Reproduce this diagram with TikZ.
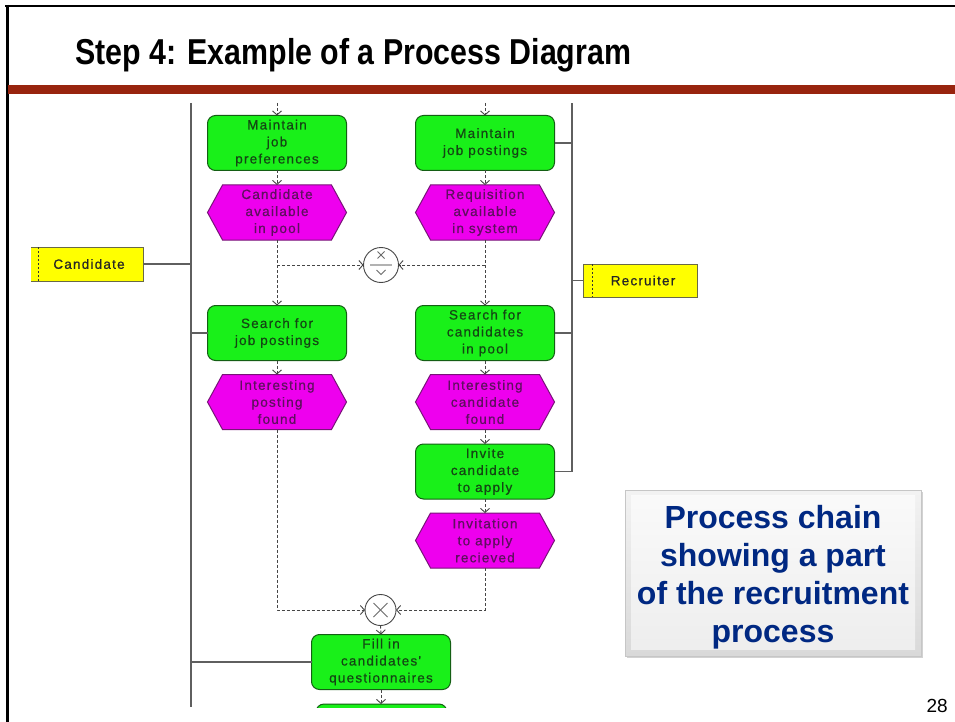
\documentclass[tikz,border=0pt]{standalone}
\usepackage{fontspec}
\setmainfont{Liberation Sans}
\newfontfamily\diafont[LetterSpace=9,FakeBold=0.6]{Liberation Sans}
\usetikzlibrary{arrows.meta,shadows,calc}
\pgfdeclarelayer{bg}
\pgfsetlayers{bg,main}

\definecolor{fngreen}{RGB}{25,240,25}
\definecolor{fnedge}{RGB}{20,95,20}
\definecolor{fntext}{RGB}{20,70,20}
\definecolor{evmag}{RGB}{238,0,238}
\definecolor{evedge}{RGB}{120,20,120}
\definecolor{evtext}{RGB}{95,15,95}
\definecolor{orgyel}{RGB}{255,255,0}
\definecolor{orgedge}{RGB}{105,105,70}
\definecolor{linegrey}{RGB}{95,95,95}
\definecolor{flowgrey}{RGB}{70,70,70}
\definecolor{titlered}{RGB}{152,36,14}
\definecolor{calloutblue}{RGB}{0,40,130}

\tikzset{
  diatext/.style={font=\diafont\fontsize{13.5}{17}\selectfont, align=center},
  fn/.style={diatext, draw=fnedge, fill=fngreen, rounded corners=8pt,
    minimum width=139pt, minimum height=55pt, inner sep=0pt, outer sep=0pt,
    text=fntext, line width=1pt},
  evt/.style={diatext, minimum width=139pt, minimum height=55pt,
    inner sep=0pt, outer sep=0pt, text=evtext},
  evtshape/.style={draw=evedge, fill=evmag, line width=1pt},
  orgbox/.style={diatext, fill=orgyel, minimum height=33pt, inner sep=0pt,
    outer sep=0pt, text=black!85},
  orgedge/.style={draw=orgedge, line width=1pt},
  orgtick/.style={draw=black!80, line width=1pt, dash pattern=on 2pt off 2pt},
  orgline/.style={draw=linegrey, line width=1.3pt},
  flow/.style={draw=flowgrey, line width=0.9pt, dash pattern=on 3pt off 2pt,
    -{Straight Barb[length=4pt,width=9pt]}},
  gate/.style={circle, draw=flowgrey, fill=white, line width=0.9pt,
    inner sep=0pt, outer sep=0pt},
  gatemark/.style={draw=flowgrey!80, line width=0.9pt},
  callout/.style={minimum width=296pt, minimum height=166pt, inner sep=0pt,
    top color=gray!10, bottom color=gray!30, draw=gray!45, line width=0.6pt,
    drop shadow={shadow xshift=2pt, shadow yshift=-2pt, opacity=0.35},
    text=calloutblue, align=center,
    font=\bfseries\fontsize{32}{38}\selectfont}
}

% event: hexagon drawn behind an invisible node of the same extent
\newcommand\eventnode[3]{%
  \node[evt] (#1) at (#2) {#3};
  \begin{pgfonlayer}{bg}
    \draw[evtshape] (#1.west) -- ([xshift=15pt]#1.north west)
      -- ([xshift=-15pt]#1.north east) -- (#1.east)
      -- ([xshift=-15pt]#1.south east) -- ([xshift=15pt]#1.south west) -- cycle;
  \end{pgfonlayer}}

\begin{document}
\begin{tikzpicture}[x=1pt,y=-1pt]
\useasboundingbox (0,0) rectangle (955,722);
\begin{pgfonlayer}{bg}
  \fill[white] (0,0) rectangle (955,722);
\end{pgfonlayer}

% slide frame and title
\draw[line width=2.5pt] (5,6) -- (955,6);
\draw[line width=2.5pt] (7.5,5) -- (7.5,722);
\fill[titlered] (7.5,85) rectangle (955,94);
\node[anchor=base west, inner sep=0pt] (title) at (75,65)
  {\resizebox{556pt}{\height}{\fontsize{36}{40}\selectfont\bfseries Step 4: Example of a Process Diagram}};

% functions
\node[fn] (mjpref) at (277,143) {Maintain\\job\\preferences};
\node[fn] (mjpost) at (485,143) {Maintain\\job postings};
\node[fn] (srchjob) at (277,333) {Search for\\job postings};
\node[fn] (srchcand) at (485,333) {Search for\\candidates\\in pool};
\node[fn] (invite) at (485,471.5) {Invite\\candidate\\to apply};
\node[fn] (fill) at (381,662) {Fill in\\candidates'\\questionnaires};
\begin{scope}
  \clip (300,690) rectangle (470,707);
  \node[fn, minimum width=131pt] (next) at (381.5,731.5) {};
\end{scope}

% events
\eventnode{candav}{277,212.5}{Candidate\\available\\in pool}
\eventnode{reqav}{485,212.5}{Requisition\\available\\in system}
\eventnode{intpost}{277,402}{Interesting\\posting\\found}
\eventnode{intcand}{485,402}{Interesting\\candidate\\found}
\eventnode{invrecv}{485,540.5}{Invitation\\to apply\\recieved}

% connectors (rules)
\node[gate, minimum size=35pt] (g1) at (381,265) {};
\draw[gatemark] ($(g1)+(-3.5,-13.5)$) -- ($(g1)+(3.5,-6.5)$);
\draw[gatemark] ($(g1)+(-3.5,-6.5)$) -- ($(g1)+(3.5,-13.5)$);
\draw[draw=gray!60, line width=2pt] ($(g1)+(-11,0)$) -- ($(g1)+(11,0)$);
\draw[gatemark] ($(g1)+(-4.5,5)$) -- ($(g1)+(0,9.5)$) -- ($(g1)+(4.5,5)$);

\node[gate, minimum size=31pt] (g2) at (380.5,610) {};
\draw[gatemark] ($(g2)+(-7,-7)$) -- ($(g2)+(7,7)$);
\draw[gatemark] ($(g2)+(-7,7)$) -- ($(g2)+(7,-7)$);

% organisational units
\node[orgbox, minimum width=112pt, minimum height=34pt] (cand) at (87,264) {\hspace*{4pt}Candidate};
\draw[orgedge] (cand.north west) -- (cand.north east) -- (cand.south east) -- (cand.south west);
\draw[orgtick] ([xshift=7pt]cand.north west) -- ([xshift=7pt]cand.south west);
\node[orgbox, draw=orgedge, line width=1pt, minimum width=114pt] (recr) at (640,280.5) {\hspace*{6pt}Recruiter};
\draw[orgtick] ([xshift=9pt]recr.north west) -- ([xshift=9pt]recr.south west);

% organisational assignment lines
\coordinate (lt) at (191,103);
\coordinate (lb) at (191,707);
\coordinate (rt) at (572,103);
\draw[orgline] (lt) -- (lb);
\draw[orgline] (invite.east) -| (rt);
\draw[orgline] (cand.east) -- (cand.east -| lt);
\draw[orgline] (srchjob.west -| lt) -- (srchjob.west);
\draw[orgline] (fill.west -| lt) -- (fill.west);
\draw[orgline] (mjpost.east) -- (mjpost.east -| rt);
\draw[orgline] (srchcand.east) -- (srchcand.east -| rt);
\draw[orgline] (recr.west -| rt) -- (recr.west);

% control flow
\coordinate (inl) at (277,103);
\coordinate (inr) at (485,103);
\draw[flow] (inl) -- (mjpref.north);
\draw[flow] (inr) -- (mjpost.north);
\draw[flow] (mjpref.south) -- (candav.north);
\draw[flow] (mjpost.south) -- (reqav.north);
\draw[flow] (candav.south) -- (srchjob.north);
\draw[flow] (reqav.south) -- (srchcand.north);
\draw[flow] (candav.south |- g1) -- (g1.west);
\draw[flow] (reqav.south |- g1) -- (g1.east);
\draw[flow] (srchjob.south) -- (intpost.north);
\draw[flow] (srchcand.south) -- (intcand.north);
\draw[flow] (intcand.south) -- (invite.north);
\draw[flow] (invite.south) -- (invrecv.north);
\draw[flow] (intpost.south) |- (g2.west);
\draw[flow] (invrecv.south) |- (g2.east);
\draw[flow] (g2.south) -- (fill.north);
\draw[flow] (fill.south) -- (fill.south |- 0,704);

% note
\node[callout,
  path picture={\shade[top color=white!96!gray, bottom color=gray!14]
    ($(path picture bounding box.north west)+(6,5)$) rectangle
    ($(path picture bounding box.south east)+(-6,-7)$);}]
  (note) at (773,573) {\parbox{290pt}{\centering\vspace*{8pt}Process chain\\showing a part\\of the recruitment\\process}};

\node[anchor=base east, inner sep=0pt, font=\fontsize{19}{22}\selectfont] (page) at (948,712) {28};
\end{tikzpicture}
\end{document}
